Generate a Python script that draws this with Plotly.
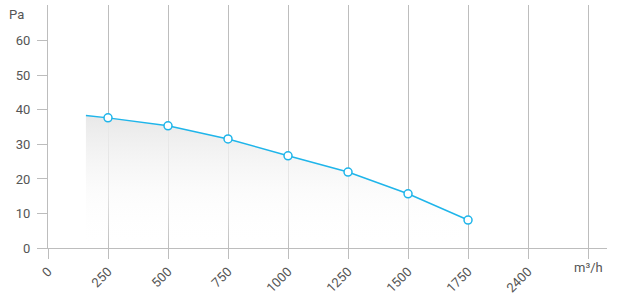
import plotly.graph_objects as go

# data
flow = [158, 250, 500, 750, 1000, 1250, 1500, 1750]
pressure = [38.4, 37.7, 35.4, 31.6, 26.7, 22.0, 15.7, 8.1]
marker_flow = [250, 500, 750, 1000, 1250, 1500, 1750]
marker_pressure = [37.7, 35.4, 31.6, 26.7, 22.0, 15.7, 8.1]
x_tickvals = [0, 250, 500, 750, 1000, 1250, 1500, 1750, 2000, 2250]
x_ticktext = ["0", "250", "500", "750", "1000", "1250", "1500", "1750", "2400", ""]
y_tickvals = [0, 10, 20, 30, 40, 50, 60]

LINE = "#1fb5ea"
GRID = "#bdbdbd"
TXT = "#555555"

fig = go.Figure()
fig.add_trace(go.Scatter(
    x=flow, y=pressure, mode="lines", fill="tozeroy",
    line=dict(color=LINE, width=1.5),
    fillgradient=dict(type="vertical",
                      colorscale=[[0, "rgba(255,255,255,0)"], [0.4, "rgba(250,250,250,0.6)"], [1, "rgba(232,232,232,1)"]]),
    hoverinfo="skip", showlegend=False))
fig.add_trace(go.Scatter(
    x=marker_flow, y=marker_pressure, mode="markers",
    marker=dict(size=8, color="white", line=dict(color=LINE, width=1.5)),
    showlegend=False))

fig.update_layout(
    width=620, height=298,
    margin=dict(l=48, r=13, t=5, b=50),
    plot_bgcolor="white", paper_bgcolor="white",
    font=dict(family="Roboto", size=13, color=TXT),
    xaxis=dict(range=[0, 2329], tickvals=x_tickvals, ticktext=x_ticktext,
               tickangle=-45, showgrid=True, gridcolor=GRID, gridwidth=1,
               showline=True, linecolor=GRID, linewidth=1,
               ticks="outside", ticklen=10, tickcolor=GRID,
               automargin=False,
               zeroline=False, fixedrange=True),
    yaxis=dict(range=[0, 70.4], tickvals=y_tickvals, showgrid=False,
               showline=True, linecolor=GRID, linewidth=1,
               ticks="outside", ticklen=10, tickcolor=GRID,
               ticklabelstandoff=4, automargin=False,
               zeroline=False, fixedrange=True),
    annotations=[
        dict(text="Pa", x=0, xref="paper", xanchor="right", xshift=-22,
             y=67.7, yref="y", yanchor="middle", showarrow=False,
             font=dict(family="Roboto", size=13, color=TXT)),
        dict(text="m³/h", x=2250, xref="x", xanchor="center",
             y=0, yref="y", yanchor="top", yshift=-10, showarrow=False,
             font=dict(family="Roboto", size=13, color=TXT)),
    ],
)

fig.write_html("out.html")
